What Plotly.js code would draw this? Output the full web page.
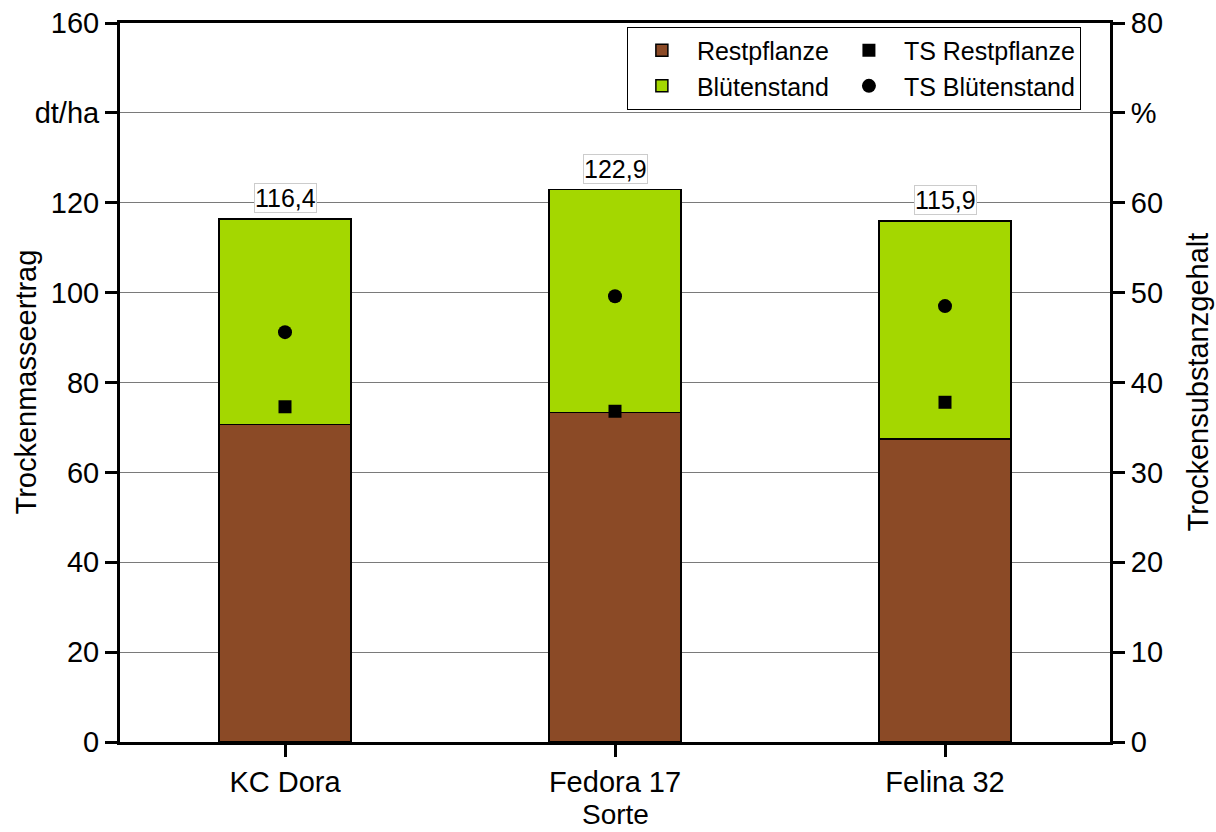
<!DOCTYPE html>
<html>
<head>
<meta charset="utf-8">
<script src="https://cdn.plot.ly/plotly-3.0.1.min.js"></script>
<style>html,body{margin:0;padding:0;background:#fff;}#chart{width:1216px;height:832px;}</style>
</head>
<body>
<div id="chart"></div>
<script>
const sorten = ["KC Dora", "Fedora 17", "Felina 32"];
const restpflanze = [70.7, 73.3, 67.4];
const bluetenstand = [45.7, 49.6, 48.5];
const tsRestpflanze = [37.3, 36.8, 37.8];
const tsBluetenstand = [45.6, 49.6, 48.5];
const leftTicks = [0, 20, 40, 60, 80, 100, 120, 140, 160];
const leftTickText = ["0", "20", "40", "60", "80", "100", "120", "dt/ha", "160"];
const rightTicks = [0, 10, 20, 30, 40, 50, 60, 70, 80];
const rightTickText = ["0", "10", "20", "30", "40", "50", "60", "%", "80"];

const FONT = "Liberation Sans, Arial, sans-serif";
const totals = restpflanze.map((v, i) => v + bluetenstand[i]);

const traces = [
  {type: "bar", name: "Restpflanze", x: sorten, y: restpflanze, width: 0.4,
   marker: {color: "#8B4A26", line: {color: "#000", width: 1.5}},
   legendgroup: "bars", hoverinfo: "y"},
  {type: "bar", name: "Blütenstand", x: sorten, y: bluetenstand, width: 0.4,
   marker: {color: "#A4D700", line: {color: "#000", width: 1.5}},
   legendgroup: "bars", hoverinfo: "y"},
  {type: "scatter", mode: "markers", name: "TS Restpflanze", x: sorten, y: tsRestpflanze,
   yaxis: "y2", marker: {symbol: "square", size: 13, color: "#000"}, legendgroup: "ts"},
  {type: "scatter", mode: "markers", name: "TS Blütenstand", x: sorten, y: tsBluetenstand,
   yaxis: "y2", marker: {symbol: "circle", size: 14, color: "#000"}, legendgroup: "ts"}
];

const annotations = sorten.map((s, i) => ({
  x: s, y: totals[i], xref: "x", yref: "y", yanchor: "bottom", yshift: 6,
  text: totals[i].toFixed(1).replace(".", ","), showarrow: false,
  font: {family: FONT, size: 25, color: "#000"},
  bgcolor: "#fff", bordercolor: "#cccccc", borderwidth: 1, borderpad: 0
}));
annotations.push(
  {x: 0, y: 0.5, xref: "paper", yref: "paper", xshift: -95, textangle: -90,
   xanchor: "center", yanchor: "middle", showarrow: false,
   text: "Trockenmasseertrag", font: {family: FONT, size: 29, color: "#000"}},
  {x: 1, y: 0.5, xref: "paper", yref: "paper", xshift: 87, textangle: -90,
   xanchor: "center", yanchor: "middle", showarrow: false,
   text: "Trockensubstanzgehalt", font: {family: FONT, size: 29, color: "#000"}},
  {x: 0.5, y: 0, xref: "paper", yref: "paper", yshift: -72,
   xanchor: "center", yanchor: "middle", showarrow: false,
   text: "Sorte", font: {family: FONT, size: 28, color: "#000"}}
);

const layout = {
  width: 1216, height: 832,
  margin: {l: 120, r: 106, t: 23, b: 90, autoexpand: false},
  paper_bgcolor: "#fff", plot_bgcolor: "#fff",
  font: {family: FONT, size: 29, color: "#000"},
  barmode: "stack",
  showlegend: true,
  legend: {
    x: 0.512, y: 0.995, xanchor: "left", yanchor: "top",
    orientation: "h", traceorder: "grouped", tracegroupgap: 18,
    itemwidth: 60,
    bordercolor: "#000", borderwidth: 1, bgcolor: "#fff",
    font: {family: FONT, size: 25, color: "#000"}
  },
  xaxis: {
    type: "category", range: [-0.5, 2.5],
    showline: true, linecolor: "#000", linewidth: 3, mirror: true,
    ticks: "outside", ticklen: 12, tickwidth: 3, tickcolor: "#000",
    tickfont: {family: FONT, size: 29},
    showgrid: false, zeroline: false
  },
  yaxis: {
    range: [0, 160], tickvals: leftTicks, ticktext: leftTickText,
    showline: true, linecolor: "#000", linewidth: 3,
    ticks: "outside", ticklen: 12, tickwidth: 3, tickcolor: "#000",
    tickfont: {family: FONT, size: 29},
    showgrid: true, gridcolor: "#7a7a7a", gridwidth: 1, zeroline: false
  },
  yaxis2: {
    overlaying: "y", side: "right", range: [0, 80],
    tickvals: rightTicks, ticktext: rightTickText,
    showline: true, linecolor: "#000", linewidth: 3,
    ticks: "outside", ticklen: 12, tickwidth: 3, tickcolor: "#000",
    tickfont: {family: FONT, size: 29},
    showgrid: false, zeroline: false
  },
  annotations: annotations
};

Plotly.newPlot("chart", traces, layout, {displayModeBar: false, staticPlot: true});
</script>
</body>
</html>
